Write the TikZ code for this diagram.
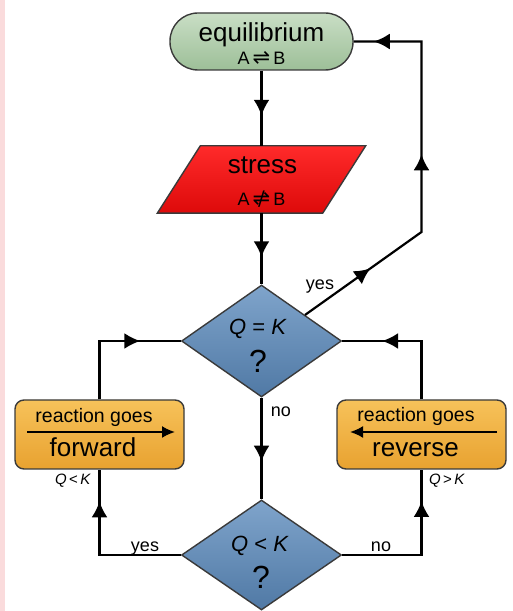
\documentclass[tikz,border=0pt]{standalone}
\usepackage{fontspec}
\setmainfont{Liberation Sans}
\newfontfamily\symfont{DejaVu Sans}
\usetikzlibrary{shapes.geometric,arrows.meta,decorations.markings,calc}

\definecolor{eqtop}{HTML}{C9DEC5}
\definecolor{eqbot}{HTML}{9DBF98}
\definecolor{stresstop}{HTML}{FF2A2A}
\definecolor{stressbot}{HTML}{DD0A0A}
\definecolor{diatop}{HTML}{7FA4CB}
\definecolor{diabot}{HTML}{5079A5}
\definecolor{boxtop}{HTML}{F7C25A}
\definecolor{boxbot}{HTML}{E8A230}
\definecolor{border}{HTML}{3A3A3A}
\definecolor{strip}{HTML}{FADBDC}

\newcommand{\eqarrows}{{\symfont\fontsize{21}{21}\selectfont ⇌}}
\newcommand{\noteqarrows}{\ooalign{\eqarrows\cr\hidewidth{\symfont\fontsize{20}{20}\selectfont ∕}\hidewidth\cr}}

\tikzset{
  flowtip/.tip={Latex[length=16pt,width=16pt]},
  line/.style={line width=2.2pt, black},
  flow/.style={line, postaction={decorate},
    decoration={markings, mark=at position #1 with {\arrow{flowtip}}}},
  eqbox/.style={draw=border, line width=1.4pt, top color=eqtop, bottom color=eqbot,
    rounded corners=28pt, minimum width=183pt, minimum height=57pt},
  stressbox/.style={draw=border, line width=1.4pt, top color=stresstop, bottom color=stressbot},
  decision/.style={diamond, draw=border, line width=1.4pt, top color=diatop, bottom color=diabot,
    minimum width=160pt, minimum height=112pt, inner sep=0pt},
  reactbox/.style={draw=border, line width=1.4pt, top color=boxtop, bottom color=boxbot,
    rounded corners=9pt, minimum width=169pt, minimum height=69pt},
  txt/.style={inner sep=0pt, anchor=base},
  bigtext/.style={txt, font=\fontsize{26}{30}\selectfont},
  smalltext/.style={txt, font=\fontsize{18}{20}\selectfont},
  qtext/.style={txt, font=\fontsize{22}{25}\selectfont},
  quest/.style={txt, font=\fontsize{32}{36}\selectfont},
  reacttext/.style={txt, font=\fontsize{19.5}{22}\selectfont},
  dirtext/.style={txt, font=\fontsize{26}{30}\selectfont},
  condtext/.style={txt, font=\fontsize{15}{17}\selectfont},
  yesno/.style={txt, font=\fontsize{18}{21}\selectfont},
}

\begin{document}
\begin{tikzpicture}[x=1pt,y=1pt]
  \useasboundingbox (0,0) rectangle (512,611);
  \fill[strip] (0,0) rectangle (5,611);

  % shapes
  \node[eqbox] (eq) at (261.5,569.5) {};
  \node[minimum width=165pt, minimum height=67pt, inner sep=0pt] (stress) at (261.5,431.5) {};
  \draw[stressbox] ($(stress.north west)+(21.5,0)$) -- ($(stress.north east)+(21.5,0)$)
    -- ($(stress.south east)+(-21.5,0)$) -- ($(stress.south west)+(-21.5,0)$) -- cycle;
  \node[decision] (qk) at (261.5,270) {};
  \node[decision, minimum height=110pt] (qlk) at (261.5,56) {};
  \node[reactbox] (fwd) at (99.5,176.5) {};
  \node[reactbox] (rev) at (421.5,176.5) {};

  % texts
  \node[bigtext] (eqname) at (261.5,569) {equilibrium};
  \node[smalltext] (eqsym) at (261.5,546) {A\hspace{3pt}\eqarrows\hspace{3pt}B};
  \node[bigtext] (stressname) at (262.5,437) {stress};
  \node[smalltext] (stresssym) at (261.5,405) {A\hspace{3pt}\noteqarrows\hspace{3pt}B};
  \node[qtext] (qkname) at (258,276) {\textit{Q} = \textit{K}};
  \node[quest] (qkmark) at (258,238) {?};
  \node[qtext] (qlkname) at (260,59) {\textit{Q} < \textit{K}};
  \node[quest] (qlkmark) at (261,23) {?};

  \node[reacttext] (fwdtop) at ($(fwd.center)+(-5.5,11.5)$) {reaction goes};
  \node[dirtext] (fwdname) at ($(fwd.center)+(-6.5,-22.5)$) {forward};
  \draw[line width=2pt, -{Latex[length=13pt,width=12pt]}]
    ($(fwd.center)+(-72.5,2.5)$) -- ($(fwd.center)+(75.5,2.5)$);
  \node[reacttext] (revtop) at ($(rev.center)+(-5.5,12.5)$) {reaction goes};
  \node[dirtext] (revname) at ($(rev.center)+(-6,-22.5)$) {reverse};
  \draw[line width=2pt, -{Latex[length=13pt,width=12pt]}]
    ($(rev.center)+(75.5,2.5)$) -- ($(rev.center)+(-71.5,2.5)$);
  \node[condtext] (fwdcond) at (73,126) {\textit{Q}\,<\,\textit{K}};
  \node[condtext] (revcond) at (447,126) {\textit{Q}\,>\,\textit{K}};

  % connectors
  \draw[flow=0.6] (eq.south) -- (stress.north);
  \draw[flow=0.62] (stress.south) -- (qk.north);
  \draw[flow=0.63] (qk.south) -- (qlk.north);
  \draw[flow=0.71] (fwd.north) |- (qk.west);
  \draw[flow=0.71] (rev.north) |- (qk.east);
  \draw[flow=0.81] (qlk.west) -| (fwd.south);
  \draw[flow=0.81] (qlk.east) -| (rev.south);
  \coordinate (yesstart) at ($(qk.north)!0.54!(qk.east)$);
  \coordinate (bend) at (421.5,379);
  \draw[line, postaction={decorate}, decoration={markings,
      mark=at position 0.2 with {\arrow{flowtip}},
      mark=at position 0.55 with {\arrow{flowtip}},
      mark=at position 0.95 with {\arrow{flowtip}}}]
    (yesstart) -- (bend) |- (eq.east);

  % branch labels
  \node[yesno] (yesup) at (320,321) {yes};
  \node[yesno] (nodown) at (281,194) {no};
  \node[yesno] (yesleft) at (145,59) {yes};
  \node[yesno] (noright) at (381,59) {no};
\end{tikzpicture}
\end{document}
